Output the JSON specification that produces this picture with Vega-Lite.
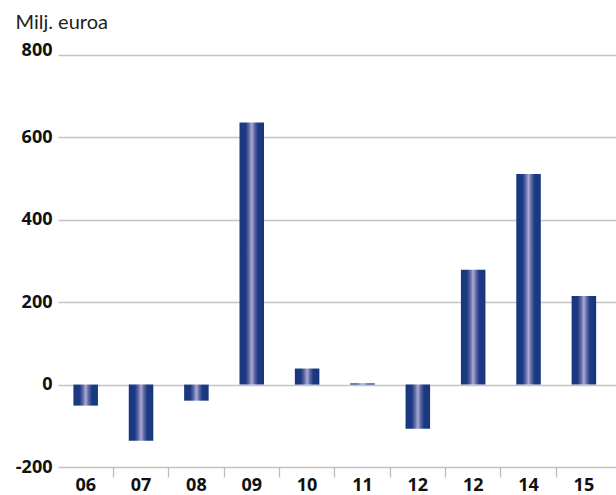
{
  "$schema": "https://vega.github.io/schema/vega-lite/v6.json",
  "width": 558,
  "height": 412,
  "autosize": {"type": "none"},
  "padding": {"left": 58, "top": 55, "right": 0, "bottom": 28},
  "background": "white",
  "config": {"view": {"stroke": null}},
  "data": {
    "values": [
      {"year": "06", "value": -51},
      {"year": "07", "value": -136},
      {"year": "08", "value": -39},
      {"year": "09", "value": 636},
      {"year": "10", "value": 39},
      {"year": "11", "value": 3},
      {"year": "12", "value": -107},
      {"year": "13", "value": 279},
      {"year": "14", "value": 511},
      {"year": "15", "value": 215}
    ]
  },
  "mark": {
    "type": "bar",
    "width": {"band": 0.443},
    "color": {
      "gradient": "linear",
      "x1": 0, "x2": 1, "y1": 0, "y2": 0,
      "stops": [
        {"offset": 0, "color": "#19377f"},
        {"offset": 0.25, "color": "#1c3a82"},
        {"offset": 0.38, "color": "#5b67a6"},
        {"offset": 0.5, "color": "#aeaad0"},
        {"offset": 0.62, "color": "#5b67a6"},
        {"offset": 0.75, "color": "#1c3a82"},
        {"offset": 1, "color": "#19377f"}
      ]
    }
  },
  "encoding": {
    "x": {
      "field": "year",
      "type": "ordinal",
      "sort": null,
      "scale": {"paddingInner": 0, "paddingOuter": 0.04, "align": 0},
      "axis": {
        "title": null,
        "bandPosition": 0,
        "domain": false,
        "grid": false,
        "labelAngle": 0,
        "labelExpr": "datum.value === '13' ? '12' : datum.value",
        "labelFont": "Open Sans",
        "labelFontWeight": "bold",
        "labelFontSize": 18,
        "labelColor": "#111111",
        "labelPadding": -1,
        "tickSize": 10,
        "tickWidth": 1.3,
        "tickColor": "#bdbdbd",
        "tickOpacity": {"condition": {"test": "datum.value === '06'", "value": 0}, "value": 1}
      }
    },
    "y": {
      "field": "value",
      "type": "quantitative",
      "scale": {"domain": [-200, 800], "nice": false, "zero": false},
      "axis": {
        "values": [-200, 0, 200, 400, 600, 800],
        "domain": false,
        "ticks": false,
        "grid": true,
        "gridColor": "#c4c4c4",
        "gridWidth": 1.3,
        "labelFont": "Open Sans",
        "labelFontWeight": "bold",
        "labelFontSize": 18,
        "labelColor": "#111111",
        "labelPadding": 6,
        "labelBaseline": "middle",
        "labelExpr": "datum.value < 0 ? '-' + format(-datum.value, 'd') : format(datum.value, 'd')",
        "labelOffset": {"condition": {"test": "datum.value === 800", "value": -5}, "value": 0},
        "title": "Milj. euroa",
        "titleAngle": 0,
        "titleAlign": "left",
        "titleBaseline": "alphabetic",
        "titleX": -43,
        "titleY": -27,
        "titleFont": "Lato",
        "titleFontSize": 20,
        "titleFontWeight": "normal",
        "titleColor": "#222222"
      }
    }
  }
}
